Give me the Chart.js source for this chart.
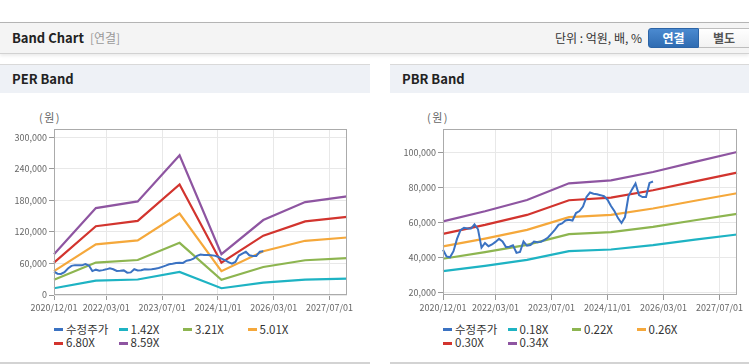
<!DOCTYPE html>
<html>
<head>
<meta charset="utf-8">
<script src="https://cdn.jsdelivr.net/npm/chart.js@4.4.1/dist/chart.umd.min.js"></script>
<style>
  body { margin: 0; width: 749px; height: 364px; overflow: hidden; background: #fff;
         font-family: "Noto Sans CJK KR", "Noto Sans", sans-serif; color: #222; position: relative; }
  .top { position: absolute; left: 0; top: 22px; width: 749px; height: 30px; background: #f4f4f4;
         border-top: 1px solid #b4b4b4; border-bottom: 1px solid #d2d2d2; box-shadow: 0 2px 3px rgba(0,0,0,.08); }
  .top .title { position: absolute; left: 12px; top: 0; line-height: 30px; font-size: 13px; font-weight: bold; }
  .top .sub { color: #999; font-weight: normal; font-size: 12px; margin-left: 6px; }
  .top .unit { position: absolute; right: 107px; top: 0; line-height: 30px; font-size: 12px; color: #333; }
  .btn { position: absolute; top: 5px; width: 51px; height: 20px; box-sizing: border-box; font-size: 12px;
         font-weight: bold; text-align: center; line-height: 18px; }
  .btn.on { left: 648px; background: linear-gradient(#4b8ad0, #2f6cb2); color: #fff; border: 1px solid #2c64a6; border-radius: 3px 0 0 3px; }
  .btn.off { left: 699px; background: linear-gradient(#fff, #f2f2f2); color: #555; border: 1px solid #bdbdbd; border-left: 0; }
  .panel { position: absolute; top: 64px; height: 297px; background: #fff;
           border-top: 1px solid #d9d9d9; border-bottom: 2px solid #d3d3d3; }
  .ph { height: 28px; background: #eef1f6; font-size: 13px; font-weight: bold; line-height: 28px; padding-left: 12px; }
  .panel canvas { position: absolute; left: 0; top: 28px; }
  .won { position: absolute; top: 45px; width: 30px; text-align: center; font-size: 11px; color: #666;
         line-height: 14px; letter-spacing: 1.5px; }
  .legend { position: absolute; top: 258px; display: grid; grid-template-columns: repeat(4, 64.5px); grid-auto-rows: 13.3px;
            font-size: 11.5px; color: #333; }
  .legend .it { white-space: nowrap; line-height: 13.3px; }
  .legend .dash { display: inline-block; width: 9px; height: 3px; vertical-align: middle; margin-right: 3px; position: relative; top: -1px; }
</style>
</head>
<body>
<div class="top">
  <div class="title">Band Chart<span class="sub">[연결]</span></div>
  <div class="unit">단위 : 억원, 배, %</div>
  <div class="btn on">연결</div>
  <div class="btn off">별도</div>
</div>

<div class="panel" style="left:0;width:370px">
  <div class="ph">PER Band</div>
  <div class="won" style="left:35px">(원)</div>
  <canvas id="perChart" width="370" height="227"></canvas>
  <div class="legend" id="perLegend" style="left:54px"></div>
</div>

<div class="panel" style="left:390px;width:359px">
  <div class="ph">PBR Band</div>
  <div class="won" style="left:33px">(원)</div>
  <canvas id="pbrChart" width="359" height="227"></canvas>
  <div class="legend" id="pbrLegend" style="left:53px"></div>
</div>

<script>
// monthly categories 2020/12 .. 2027/12
const months = [];
for (let y = 2020, m = 12; y < 2028; ) {
  months.push(y + "/" + String(m).padStart(2, "0") + "/01");
  if (y === 2027 && m === 12) break;
  m++;
  if (m > 12) { m = 1; y++; }
}
const xTickLabels = ["2020/12/01", "2022/03/01", "2023/07/01", "2024/11/01", "2026/03/01", "2027/07/01"];

// band values at each December
const bandDates = ["2020/12/01", "2021/12/01", "2022/12/01", "2023/12/01", "2024/12/01", "2025/12/01", "2026/12/01", "2027/12/01"];

// 수정주가, monthly from 2020/12
const price = [44300, 40500, 40000, 43500, 50500, 55500, 56800, 56500, 56400, 58800,
  56000, 45500, 48200, 46300, 47300, 48800, 50600, 49000, 45800, 46000,
  46800, 42500, 43000, 49000, 46600, 47000, 49000, 48600, 48800, 50000,
  51300, 53500, 55800, 58500, 59300, 61000, 61500, 61000, 65300, 66400,
  69000, 74500, 77000, 76300, 76000, 75500, 74900, 72900, 69300, 66300,
  62400, 59600, 63000, 75000, 78800, 82200, 75500, 74400, 74400, 82500, 83300];

const perLabels = ["1.42X", "3.21X", "5.01X", "6.80X", "8.59X"];
const per142 = [12850, 27320, 29440, 43920, 12850, 23570, 29220, 31010];
const per321 = [29050, 61760, 66540, 99290, 29050, 53290, 66060, 70110];
const per501 = [45340, 96390, 103860, 154960, 45340, 83170, 103110, 109420];
const per680 = [61540, 130830, 140960, 210320, 61540, 112880, 139940, 148510];
const per859 = [77740, 165270, 178070, 265690, 77740, 142590, 176780, 187610];
const perTicks = [0, 60000, 120000, 180000, 240000, 300000];

const pbrLabels = ["0.18X", "0.22X", "0.26X", "0.30X", "0.34X"];
const pbr018 = [32040, 35100, 38520, 43560, 44460, 46980, 50040, 53010];
const pbr022 = [39160, 42900, 47080, 53240, 54340, 57420, 61160, 64790];
const pbr026 = [46280, 50700, 55640, 62920, 64220, 67860, 72280, 76570];
const pbr030 = [53400, 58500, 64200, 72600, 74100, 78300, 83400, 88350];
const pbr034 = [60520, 66300, 72760, 82280, 83980, 88740, 94520, 100130];
const pbrTicks = [20000, 40000, 60000, 80000, 100000];

const priceColor = "#3b72c2";
const bandColors = ["#1eb3c3", "#8db550", "#f5a83b", "#d2342e", "#8e55a1"];

Chart.defaults.font.family = "'Noto Sans CJK KR', 'Noto Sans', sans-serif";
Chart.defaults.font.size = 9;
Chart.defaults.color = "#666";

const frame = {
  id: "frame",
  afterDraw(chart) {
    const a = chart.chartArea;
    const ctx = chart.ctx;
    ctx.save();
    ctx.strokeStyle = "#ababab";
    ctx.lineWidth = 1;
    ctx.strokeRect(Math.round(a.left) + 0.5, Math.round(a.top) + 0.5,
      Math.round(a.right - a.left) - 1, Math.round(a.bottom - a.top) - 1);
    ctx.restore();
  }
};

function makeChart(id, legendId, labels, bands, yTicks, yMin, yMax, padRight, yWidth) {
  const datasets = [{
    label: "수정주가", data: price, borderColor: priceColor, borderWidth: 2, order: 0
  }].concat(bands.map((b, i) => ({
    label: labels[i],
    data: b.map((v, j) => ({ x: bandDates[j], y: v })),
    borderColor: bandColors[i], borderWidth: 2.2, order: 1
  })));
  datasets.forEach(d => { d.pointRadius = 0; d.fill = false; d.tension = 0; d.spanGaps = true; });

  const chart = new Chart(document.getElementById(id), {
    type: "line",
    data: { labels: months, datasets },
    plugins: [frame],
    options: {
      responsive: false,
      animation: false,
      layout: { padding: { top: 36, right: padRight, left: 0, bottom: 0 } },
      plugins: { legend: { display: false }, tooltip: { enabled: false } },
      scales: {
        x: {
          type: "category",
          offset: false,
          grid: { color: "#e8e8e8", tickColor: "#999", tickLength: 5 },
          border: { display: false },
          ticks: { autoSkip: false, maxRotation: 0, padding: 2 },
          afterBuildTicks: s => { s.ticks = xTickLabels.map(l => ({ value: months.indexOf(l) })); },
          afterFit: s => { s.height = 25; s.paddingLeft = 0; s.paddingRight = 0; }
        },
        y: {
          min: yMin, max: yMax,
          grid: { color: "#e8e8e8", tickColor: "#999", tickLength: 5 },
          border: { display: false },
          ticks: { padding: 2, callback: v => v.toLocaleString("en-US") },
          afterBuildTicks: s => { s.ticks = yTicks.map(v => ({ value: v })); },
          afterFit: s => { s.width = yWidth; s.paddingTop = 0; s.paddingBottom = 0; }
        }
      }
    }
  });

  const box = document.getElementById(legendId);
  chart.data.datasets.forEach(d => {
    const it = document.createElement("div");
    it.className = "it";
    it.innerHTML = '<span class="dash" style="background:' + d.borderColor + '"></span>' + d.label;
    box.appendChild(it);
  });
  return chart;
}

makeChart("perChart", "perLegend", perLabels, [per142, per321, per501, per680, per859],
  perTicks, 0, 315800, 23, 54);
makeChart("pbrChart", "pbrLegend", pbrLabels, [pbr018, pbr022, pbr026, pbr030, pbr034],
  pbrTicks, 18450, 113300, 12, 53);
</script>
</body>
</html>
